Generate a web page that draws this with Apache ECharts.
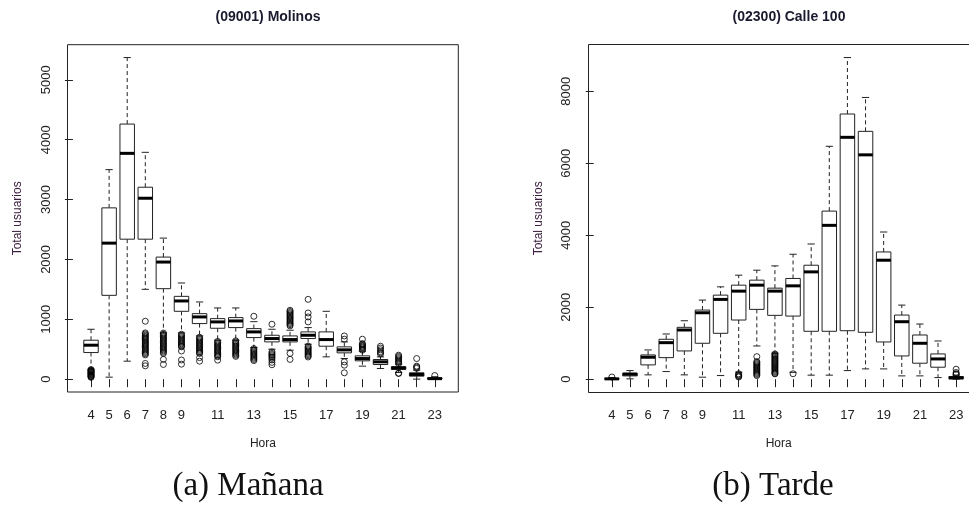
<!DOCTYPE html>
<html>
<head>
<meta charset="utf-8">
<script src="https://cdn.jsdelivr.net/npm/echarts@6/dist/echarts.min.js"></script>
<style>
html,body{margin:0;padding:0;background:#fff;}
#chart{width:969px;height:512px;}
</style>
</head>
<body>
<div id="chart"></div>
<script>
// ---------- DATA ----------
const hours = [4,5,6,7,8,9,10,11,12,13,14,15,16,17,18,19,20,21,22,23];
const xLabelHours = [4,5,6,7,8,9,11,13,15,17,19,21,23];
const leftYTicks = [0,1000,2000,3000,4000,5000];
const rightYTicks = [0,2000,4000,6000,8000];

// (09001) Molinos – whisker low, Q1, median, Q3, whisker high
const molinosLow  = [167, 33, 300,1500, 772, 772, 722, 650, 650, 528, 500, 483, 583, 372, 344, 217, 178, 110,   0,  0];
const molinosQ1   = [444,1400,2338,2338,1511,1133, 928, 850, 861, 694, 622, 622, 678, 550, 439, 306, 244, 161,  50,  0];
const molinosMed  = [567,2272,3772,3022,1956,1306,1039, 956, 972, 789, 678, 661, 733, 661, 489, 344, 289, 189,  78,  8];
const molinosQ3   = [650,2861,4261,3206,2039,1383,1094,1011,1028, 844, 733, 722, 789, 789, 539, 389, 328, 206, 106, 22];
const molinosHigh = [833,3500,5372,3789,2356,1606,1289,1189,1189, 960, 833, 817, 861,1133, 622, 467, 372, 250, 150, 40];
const molinosOut = [
  [160,150,140,130,120,110,100,90,80,70,60,50,40,30],
  [],
  [],
  [967,772,755,735,715,700,680,660,640,620,600,585,565,545,525,505,485,465,445,425,405,262,222],
  [770,750,730,710,690,670,650,630,610,590,570,550,530,510,490,470,450,430,330,245],
  [750,730,710,690,670,650,630,610,590,570,550,540,470,320,250],
  [700,680,660,640,620,600,580,560,540,520,500,480,460,440,430,360,300],
  [630,610,590,570,550,530,510,490,470,450,430,410,390,375,317],
  [640,620,600,580,560,540,520,500,480,460,440,420,400,380],
  [1050,510,490,470,450,430,410,390,370,350,330,310],
  [917,455,430,410,390,370,350,320,280,240],
  [1150,1130,1110,1090,1070,1050,1030,1010,990,970,950,930,910,890,430,330],
  [1333,1105,1039,956,550,530,510,490,470,450,430,410,390,370],
  [],
  [722,667,289,233,106],
  [667,594,580,565,550,535,520,500,483],
  [550,520,490,460,440,420],
  [400,380,360,340,320,300,280,260,100,94],
  [344,217,200,180],
  [60]
];

// (02300) Calle 100
const calleLow  = [ 0,   8, 119, 211, 119,  55, 100, 194, 922, 720, 190, 111, 111, 238, 285, 285,  91,  91,  44,  0];
const calleQ1   = [ 0,  91, 396, 598, 784, 997,1274,1643,1939,1773,1753,1330,1330,1346,1302,1033, 645, 443, 332, 10];
const calleMed  = [ 8, 138, 609,1014,1366,1845,2216,2446,2612,2446,2593,2981,4274,6720,6233,3305,1596, 997, 562, 36];
const calleQ3   = [20, 166, 673,1108,1440,1920,2335,2612,2751,2529,2798,3166,4670,7368,6886,3535,1781,1227, 701, 72];
const calleHigh = [45, 238, 812,1255,1623,2197,2565,2889,3028,3147,3471,3756,6471,8937,7828,4089,2058,1532,1061,110];
const calleOut = [
  [60],[],[],[],[],[],[],
  [150,120,100,80,60],
  [626,488,460,430,400,370,340,310,280,250,220,190,160,130,100],
  [700,670,640,610,580,550,520,490,460,430,400,370,340,310,280,250,220,190,160,147],
  [150],
  [],[],[],[],[],[],[],[],
  [277,185,150,130]
];

// ---------- BUILD ----------
function boxData(lo,q1,md,q3,hi){
  return hours.map((h,i)=>[i+1, lo[i], q1[i], md[i], q3[i], hi[i]]);
}
function outData(out){
  const d=[];
  out.forEach((arr,i)=>arr.forEach(v=>d.push([i+1,v])));
  return d;
}
const INK = '#222';
function renderBox(params, api){
  const x = api.value(0);
  const pLo = api.coord([x, api.value(1)]);
  const pQ1 = api.coord([x, api.value(2)]);
  const pMd = api.coord([x, api.value(3)]);
  const pQ3 = api.coord([x, api.value(4)]);
  const pHi = api.coord([x, api.value(5)]);
  const half = api.size([0.8, 0])[0] / 2;
  const st = half / 2;
  const cx = pMd[0];
  const dash = {stroke: INK, lineWidth: 1, lineDash: [4,3]};
  const solid = {stroke: INK, lineWidth: 1};
  return {
    type: 'group',
    children: [
      {type:'line', shape:{x1:cx,y1:pQ3[1],x2:cx,y2:pHi[1]}, style:dash},
      {type:'line', shape:{x1:cx,y1:pQ1[1],x2:cx,y2:pLo[1]}, style:dash},
      {type:'line', shape:{x1:cx-st,y1:pHi[1],x2:cx+st,y2:pHi[1]}, style:solid},
      {type:'line', shape:{x1:cx-st,y1:pLo[1],x2:cx+st,y2:pLo[1]}, style:solid},
      {type:'rect', shape:{x:cx-half,y:pQ3[1],width:2*half,height:pQ1[1]-pQ3[1]}, style:{fill:'#fff',stroke:INK,lineWidth:1}},
      {type:'line', shape:{x1:cx-half,y1:pMd[1],x2:cx+half,y2:pMd[1]}, style:{stroke:'#000',lineWidth:3}}
    ]
  };
}

const tickFont = {fontFamily:'Liberation Sans', fontSize:13, color:INK};
function xAxisCfg(gi, max){
  return {
    type:'value', gridIndex:gi, min:-0.3, max:max,
    splitLine:{show:false},
    axisLine:{show:false},
    axisTick:{show:true, length:8, lineStyle:{color:INK}, customValues: hours.map((h,i)=>i+1)},
    axisLabel:Object.assign({margin:17, customValues: xLabelHours.map(h=>hours.indexOf(h)+1),
      formatter: v => String(hours[Math.round(v)-1])}, tickFont),
    name:'Hora', nameLocation:'middle', nameGap:46,
    nameTextStyle:{fontFamily:'Liberation Sans', fontSize:12, color:INK}
  };
}
function yAxisCfg(gi,min,max,ticks){
  return {
    type:'value', gridIndex:gi, min:min, max:max,
    splitLine:{show:false},
    axisLine:{show:false},
    axisTick:{show:true, length:8, lineStyle:{color:INK}, customValues: ticks},
    axisLabel:Object.assign({rotate:90, margin:15, customValues: ticks,
      formatter: v => String(v)}, tickFont),
    name:'Total usuarios', nameLocation:'middle', nameGap:44, nameRotate:90,
    nameTextStyle:{fontFamily:'Liberation Sans', fontSize:12, color:'#3d2040'}
  };
}

const chart = echarts.init(document.getElementById('chart'), null, {renderer:'canvas'});
chart.setOption({
  backgroundColor:'#fff',
  animation:false,
  title:[
    {text:'(09001) Molinos', left:263, top:5, textAlign:'center',
     textStyle:{fontFamily:'Liberation Sans', fontSize:14, fontWeight:'bold', color:'#1a1a2e'}},
    {text:'(02300) Calle 100', left:784, top:5, textAlign:'center',
     textStyle:{fontFamily:'Liberation Sans', fontSize:14, fontWeight:'bold', color:'#1a1a2e'}}
  ],
  grid:[
    {left:67.5, right:969-458.3, top:44.7, bottom:512-392, show:true, borderColor:INK, borderWidth:1, backgroundColor:'transparent'},
    {left:588.3, right:0, top:44.7, bottom:512-392, show:false}
  ],
  // right panel is cut by the page edge: its x range stops before the reference frame's right border
  xAxis:[xAxisCfg(0, 21.3), xAxisCfg(1, 20.71)],
  yAxis:[yAxisCfg(0,-215,5587,leftYTicks), yAxisCfg(1,-357,9294,rightYTicks)],
  series:[
    {type:'custom', xAxisIndex:0, yAxisIndex:0, renderItem:renderBox,
     data: boxData(molinosLow,molinosQ1,molinosMed,molinosQ3,molinosHigh)},
    {type:'scatter', xAxisIndex:0, yAxisIndex:0, symbol:'circle', symbolSize:6,
     itemStyle:{color:'rgba(0,0,0,0)', borderColor:'#000', borderWidth:1},
     data: outData(molinosOut)},
    {type:'custom', xAxisIndex:1, yAxisIndex:1, renderItem:renderBox,
     data: boxData(calleLow,calleQ1,calleMed,calleQ3,calleHigh)},
    {type:'scatter', xAxisIndex:1, yAxisIndex:1, symbol:'circle', symbolSize:6,
     itemStyle:{color:'rgba(0,0,0,0)', borderColor:'#000', borderWidth:1},
     data: outData(calleOut)}
  ],
  graphic:[
    {type:'polyline', shape:{points:[[969,44.5],[588.5,44.5],[588.5,392.5],[969,392.5]]},
     style:{stroke:INK, lineWidth:1, fill:null}, z:10},
    {type:'text', x:248, y:486, style:{text:'(a) Mañana', font:'33px "Liberation Serif"', fill:'#111', align:'center', verticalAlign:'middle'}},
    {type:'text', x:773, y:486, style:{text:'(b) Tarde', font:'33px "Liberation Serif"', fill:'#111', align:'center', verticalAlign:'middle'}}
  ]
});
</script>
</body>
</html>
